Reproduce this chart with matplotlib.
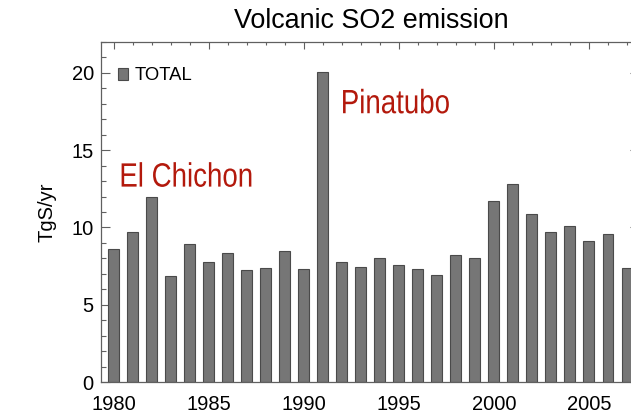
import matplotlib
matplotlib.use('Agg')
import matplotlib.pyplot as plt
from matplotlib.ticker import MultipleLocator
from matplotlib.patheffects import AbstractPathEffect
from matplotlib.transforms import Affine2D

years = list(range(1980, 2008))
so2_total = [8.6, 9.7, 11.95, 6.85, 8.95, 7.75, 8.35, 7.25, 7.4, 8.5,
             7.35, 20.05, 7.8, 7.45, 8.05, 7.55, 7.3, 6.9, 8.25, 8.05,
             11.7, 12.8, 10.9, 9.7, 10.1, 9.15, 9.6, 7.4]
events = ['El Chichon', 'Pinatubo']
event_pos = [(1980.3, 12.64), (1991.95, 17.38)]

plt.rcParams['font.family'] = ['Liberation Sans', 'DejaVu Sans']


class Narrow(AbstractPathEffect):
    # squeeze glyphs horizontally (no narrow sans installed)
    def __init__(self, sx):
        super().__init__()
        self.sx = sx

    def draw_path(self, renderer, gc, tpath, affine, rgbFace=None):
        renderer.draw_path(gc, tpath, Affine2D().scale(self.sx, 1) + affine, rgbFace)


W, H = 631, 413
fig = plt.figure(figsize=(W / 100, H / 100), dpi=100)
# axes runs past the right edge of the canvas, as in the reference
ax = fig.add_axes([100.7 / W, (H - 382.3) / H, 538.3 / W, 340.6 / H])

bars = ax.bar(years, so2_total, width=0.56, color='#767676',
              edgecolor='#4a4a4a', linewidth=0.8, label='TOTAL')

ax.set_xlim(1979.32, 2007.64)
ax.set_ylim(0, 22)
ax.xaxis.set_major_locator(MultipleLocator(5))
ax.xaxis.set_minor_locator(MultipleLocator(1))
ax.yaxis.set_major_locator(MultipleLocator(5))
ax.yaxis.set_minor_locator(MultipleLocator(1))
ax.set_axisbelow(True)

axis_col = '#606060'
for sp in ax.spines.values():
    sp.set_color(axis_col)
    sp.set_linewidth(0.9)
ax.tick_params(axis='x', which='both', direction='in', top=True, bottom=True,
               color=axis_col, width=0.8, labelsize=14.5, pad=9)
ax.tick_params(axis='x', which='major', length=4.8)
ax.tick_params(axis='x', which='minor', length=2.4)
ax.tick_params(axis='y', which='both', direction='in', left=True, right=True,
               color=axis_col, width=0.8, labelsize=14.5, pad=5)
ax.tick_params(axis='y', which='major', length=6.7)
ax.tick_params(axis='y', which='minor', length=3.3)

ax.set_ylabel('TgS/yr', fontsize=14.5)
ax.yaxis.set_label_coords(-(100.7 - 47) / 538.3, 0.5)
ax.yaxis.label.set_verticalalignment('center')

fig.text(234 / W, 1 - 28.3 / H, 'Volcanic SO2 emission', fontsize=19.4,
         ha='left', va='baseline')

red = '#b3190c'
for name, (xp, yp) in zip(events, event_pos):
    ax.text(xp, yp, name, fontsize=24.3, color=red, ha='left', va='baseline',
            path_effects=[Narrow(0.82)])

ax.legend(loc='center left', bbox_to_anchor=(17 / 538.3, 306.3 / 340.6),
          frameon=False, fontsize=13.3, borderpad=0, borderaxespad=0,
          handlelength=0.58, handleheight=0.64, handletextpad=0.36)

fig.canvas.draw()
ax.get_yticklabels()[0].set_verticalalignment('baseline')

fig.savefig('out.png', dpi=100)
